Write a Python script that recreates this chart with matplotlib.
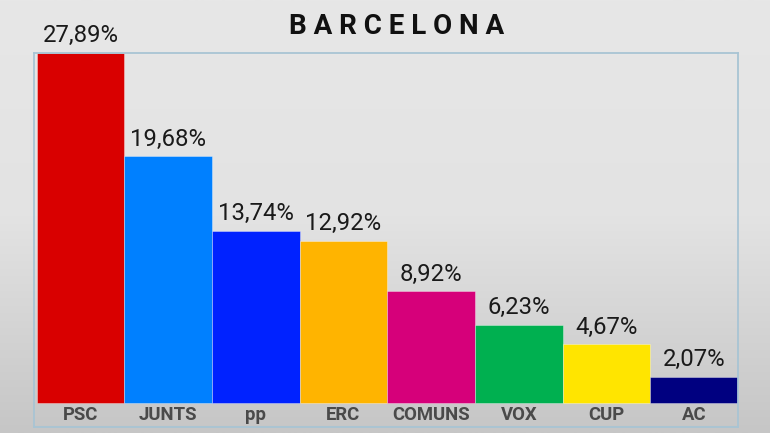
import numpy as np
import matplotlib
matplotlib.use("Agg")
import matplotlib.pyplot as plt
from matplotlib.colors import LinearSegmentedColormap

categories = ["PSC", "JUNTS", "pp", "ERC", "COMUNS", "VOX", "CUP", "AC"]
values = [27.89, 19.68, 13.74, 12.92, 8.92, 6.23, 4.67, 2.07]
value_labels = ["27,89%", "19,68%", "13,74%", "12,92%", "8,92%", "6,23%", "4,67%", "2,07%"]
colors = ["#d90000", "#0080ff", "#0022ff", "#ffb400", "#d6007a", "#00b050", "#ffe500", "#000080"]
title = "BARCELONA"

plt.rcParams['font.family'] = ['Roboto', 'DejaVu Sans']

fig = plt.figure(figsize=(7.7, 4.33), dpi=100)

# background gradient
bg = fig.add_axes([0, 0, 1, 1], zorder=0)
grad = np.linspace(0, 1, 256).reshape(-1, 1)
cmap = LinearSegmentedColormap.from_list("bg", ["#e7e7e7", "#e3e3e3", "#c6c6c6"])
bg.imshow(grad, aspect='auto', cmap=cmap, extent=[0, 1, 0, 1], origin='upper')
bg.set_axis_off()

ax = fig.add_axes([34/770, 1-427/433, 704/770, 374/433], zorder=1)
ax.set_facecolor('none')
x = np.arange(len(categories))
ax.bar(x, values, width=1.0, color=colors, edgecolor=(1, 1, 1, 0.35), linewidth=0.7, zorder=2)

ppu = 350 / 27.89
ymin = -24 / ppu
ax.set_ylim(ymin, 27.89)
ax.set_xlim(-0.53, 7.5)

for i, (v, lab) in enumerate(zip(values, value_labels)):
    ax.annotate(lab, (i, v), xytext=(0, 4), textcoords='offset points', ha='center', va='bottom',
                fontsize=17.2, color='#1a1a1a', annotation_clip=False)
    ax.text(i, ymin / 2, categories[i], ha='center', va='center', fontsize=13.3,
            fontweight='bold', color='#4a4a4a')

ax.set_xticks([])
ax.set_yticks([])
for s in ax.spines.values():
    s.set_color('#a8c4d4')
    s.set_linewidth(1.3)

fig.text(397/770, 1-27/433, " ".join(title), ha='center', va='center', fontsize=20,
         fontweight='bold', color='#111111')

fig.savefig("out.png", dpi=100)
